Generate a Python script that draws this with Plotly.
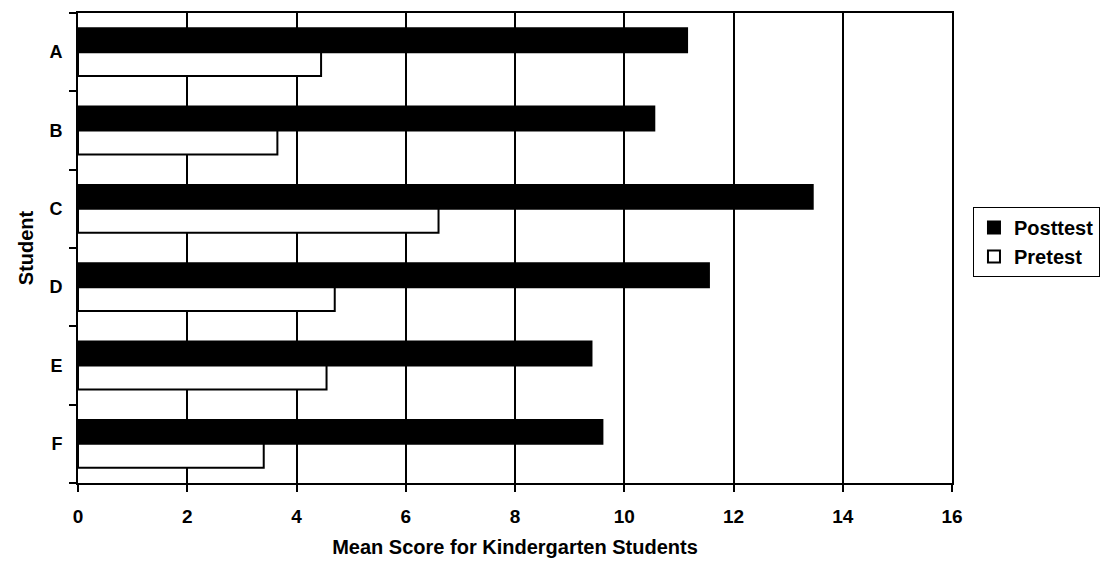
import plotly.graph_objects as go

# Mean scores per student
students = ["A", "B", "C", "D", "E", "F"]
posttest = [11.15, 10.55, 13.45, 11.55, 9.4, 9.6]
pretest = [4.45, 3.65, 6.6, 4.7, 4.55, 3.4]
x_ticks = [0, 2, 4, 6, 8, 10, 12, 14, 16]

FONT = "Liberation Sans, Arial, sans-serif"

fig = go.Figure()
fig.add_trace(go.Bar(
    y=students, x=posttest, orientation="h", name="<b>Posttest</b>",
    marker=dict(color="black", line=dict(color="black", width=2)),
))
fig.add_trace(go.Bar(
    y=students, x=pretest, orientation="h", name="<b>Pretest</b>",
    marker=dict(color="white", line=dict(color="black", width=2)),
))

fig.update_layout(
    width=1107, height=566,
    margin=dict(l=78, r=155, t=13, b=83, autoexpand=False),
    paper_bgcolor="white", plot_bgcolor="white",
    barmode="group", bargap=0.39, bargroupgap=0,
    font=dict(family=FONT, color="black", size=18),
    legend=dict(
        x=1.024, y=0.513, xanchor="left", yanchor="middle",
        bordercolor="black", borderwidth=1,
        font=dict(family=FONT, size=20, color="black"),
        traceorder="normal", itemwidth=30,
    ),
    showlegend=True,
)

fig.update_xaxes(
    range=[0, 16], tickvals=x_ticks, ticktext=[f"<b>{v}</b>" for v in x_ticks],
    showgrid=True, gridcolor="black", gridwidth=1.5,
    showline=True, linecolor="black", linewidth=2, mirror=True,
    ticks="outside", ticklen=7, tickcolor="black", tickwidth=1.5,
    zeroline=False, ticklabelstandoff=8,
    tickfont=dict(family=FONT, size=19),
    title=dict(text="<b>Mean Score for Kindergarten Students</b>",
               font=dict(family=FONT, size=20), standoff=14),
)
fig.update_yaxes(
    autorange="reversed",
    tickvals=students, ticktext=[f"<b>{s}</b>" for s in students],
    showgrid=False,
    showline=True, linecolor="black", linewidth=2, mirror=True,
    ticks="outside", ticklen=7, tickcolor="black", tickwidth=1.5,
    tickson="boundaries", ticklabelstandoff=10,
    tickfont=dict(family=FONT, size=18),
    title=dict(text="<b>Student</b>", font=dict(family=FONT, size=20), standoff=10),
)

fig.write_html("out.html")
